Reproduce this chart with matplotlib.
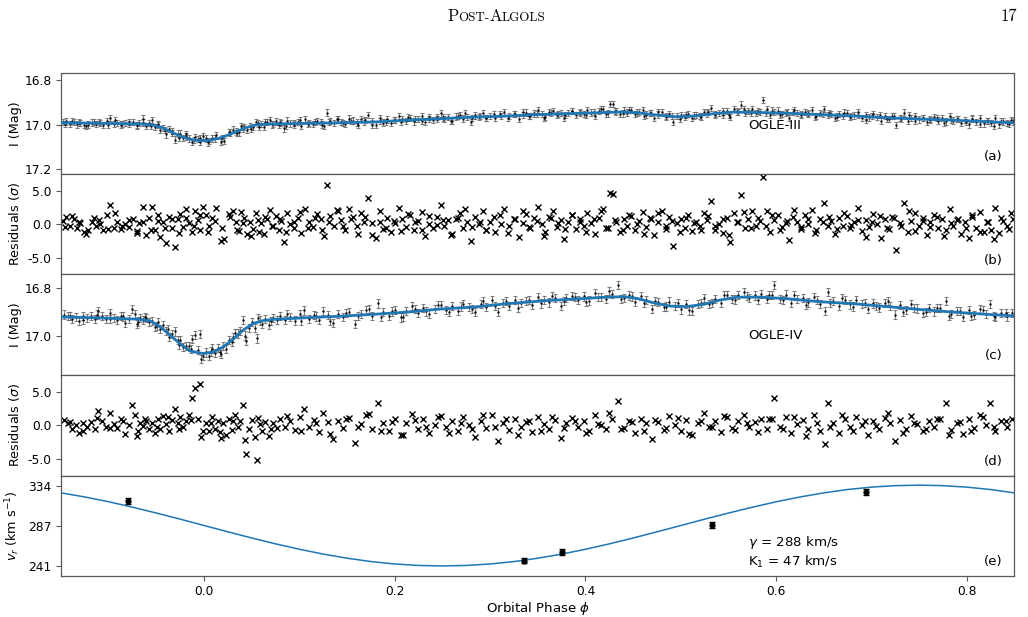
import matplotlib
matplotlib.use("Agg")
import matplotlib.pyplot as plt
from matplotlib.text import Annotation

plt.rcParams['font.family'] = ['DejaVu Sans']
plt.rcParams['axes.unicode_minus'] = False
plt.rcParams['mathtext.fontset'] = 'dejavusans'

# ---------------- OGLE-III (panels a, b) ----------------
ogle3_phase = [
    -0.148, -0.145, -0.141, -0.137, -0.133, -0.130, -0.126, -0.122, -0.118, -0.114,
    -0.110, -0.106, -0.102, -0.099, -0.095, -0.091, -0.087, -0.083, -0.079, -0.075,
    -0.071, -0.068, -0.064, -0.061, -0.058, -0.055, -0.052, -0.049, -0.046, -0.043,
    -0.040, -0.037, -0.034, -0.031, -0.028, -0.025, -0.022, -0.019, -0.016, -0.013,
    -0.010, -0.007, -0.004, -0.001, 0.002, 0.005, 0.008, 0.012, 0.018, 0.021,
    0.027, 0.030, 0.033, 0.036, 0.039, 0.042, 0.045, 0.048, 0.051, 0.054,
    0.057, 0.060, 0.063, 0.066, 0.069, 0.072, 0.075, 0.078, 0.081, 0.084,
    0.087, 0.090, 0.094, 0.098, 0.102, 0.106, 0.110, 0.114, 0.118, 0.122,
    0.126, 0.129, 0.132, 0.136, 0.140, 0.144, 0.148, 0.152, 0.156, 0.160,
    0.164, 0.168, 0.172, 0.176, 0.180, 0.184, 0.188, 0.192, 0.196, 0.200,
    0.204, 0.208, 0.212, 0.216, 0.220, 0.224, 0.228, 0.232, 0.236, 0.240,
    0.244, 0.248, 0.252, 0.256, 0.260, 0.264, 0.268, 0.272, 0.276, 0.280,
    0.284, 0.288, 0.292, 0.296, 0.300, 0.305, 0.310, 0.315, 0.320, 0.325,
    0.330, 0.334, 0.338, 0.342, 0.346, 0.350, 0.354, 0.358, 0.362, 0.366,
    0.370, 0.374, 0.378, 0.382, 0.386, 0.390, 0.394, 0.398, 0.402, 0.406,
    0.410, 0.414, 0.418, 0.422, 0.426, 0.429, 0.432, 0.436, 0.440, 0.444,
    0.448, 0.452, 0.456, 0.460, 0.464, 0.468, 0.472, 0.476, 0.480, 0.484,
    0.488, 0.492, 0.496, 0.500, 0.504, 0.508, 0.512, 0.516, 0.520, 0.524,
    0.528, 0.532, 0.536, 0.540, 0.544, 0.548, 0.552, 0.556, 0.560, 0.563,
    0.567, 0.571, 0.575, 0.579, 0.583, 0.586, 0.590, 0.594, 0.598, 0.602,
    0.606, 0.610, 0.614, 0.618, 0.622, 0.626, 0.630, 0.634, 0.638, 0.642,
    0.646, 0.650, 0.654, 0.658, 0.662, 0.666, 0.670, 0.674, 0.678, 0.682,
    0.686, 0.690, 0.694, 0.698, 0.702, 0.706, 0.710, 0.714, 0.718, 0.722,
    0.726, 0.730, 0.734, 0.738, 0.742, 0.746, 0.750, 0.754, 0.758, 0.762,
    0.766, 0.770, 0.774, 0.778, 0.782, 0.786, 0.790, 0.794, 0.798, 0.802,
    0.806, 0.810, 0.814, 0.818, 0.822, 0.826, 0.830, 0.834, 0.838, 0.842,
    0.846, 0.849,
    -0.146, -0.139, -0.131, -0.124, -0.116, -0.109, -0.101, -0.094, -0.086, -0.079,
    -0.071, -0.064, -0.056, -0.049, -0.041, -0.034, -0.026, -0.019, -0.011, -0.004,
    0.004, 0.011, 0.019, 0.026, 0.034, 0.041, 0.049, 0.056, 0.064, 0.071,
    0.079, 0.086, 0.094, 0.101, 0.109, 0.116, 0.124, 0.131, 0.139, 0.146,
    0.154, 0.161, 0.169, 0.176, 0.184, 0.191, 0.199, 0.206, 0.214, 0.221,
    0.229, 0.236, 0.244, 0.251, 0.259, 0.266, 0.274, 0.281, 0.289, 0.296,
    0.304, 0.311, 0.319, 0.326, 0.334, 0.341, 0.349, 0.356, 0.364, 0.371,
    0.379, 0.386, 0.394, 0.401, 0.409, 0.416, 0.424, 0.431, 0.439, 0.446,
    0.454, 0.461, 0.469, 0.476, 0.484, 0.491, 0.499, 0.506, 0.514, 0.521,
    0.529, 0.536, 0.544, 0.551, 0.559, 0.566, 0.574, 0.581, 0.589, 0.596,
    0.604, 0.611, 0.619, 0.626, 0.634, 0.641, 0.649, 0.656, 0.664, 0.671,
    0.679, 0.686, 0.694, 0.701, 0.709, 0.716, 0.724, 0.731, 0.739, 0.746,
    0.754, 0.761, 0.769, 0.776, 0.784, 0.791, 0.799, 0.806, 0.814, 0.821,
    0.829, 0.836, 0.844]
ogle3_mag = [
    16.989, 16.985, 16.995, 16.987, 16.998, 16.991, 17.002, 16.999, 16.990, 16.995,
    16.988, 17.000, 16.982, 16.970, 16.997, 16.991, 16.999, 16.992, 16.996, 16.987,
    17.003, 16.991, 16.972, 17.006, 16.991, 16.979, 17.010, 17.002, 17.024, 17.013,
    17.043, 17.018, 17.038, 17.066, 17.039, 17.039, 17.058, 17.041, 17.061, 17.076,
    17.053, 17.065, 17.077, 17.051, 17.061, 17.072, 17.061, 17.045, 17.077, 17.071,
    17.034, 17.021, 17.030, 17.034, 17.007, 17.009, 17.022, 17.004, 17.010, 16.988,
    17.008, 16.995, 17.008, 16.989, 16.978, 16.997, 16.985, 17.002, 16.991, 17.016,
    16.981, 16.994, 16.999, 16.987, 17.004, 16.976, 16.991, 16.997, 16.982, 16.988,
    17.006, 16.945, 16.982, 16.993, 16.976, 16.986, 16.996, 16.972, 16.981, 16.990,
    16.975, 16.985, 16.955, 16.999, 17.002, 16.982, 16.990, 16.976, 16.993, 16.980,
    16.962, 16.974, 16.982, 16.968, 16.985, 16.973, 16.962, 16.989, 16.974, 16.979,
    16.964, 16.949, 16.974, 16.966, 16.981, 16.963, 16.956, 16.972, 16.965, 16.986,
    16.958, 16.965, 16.949, 16.970, 16.960, 16.971, 16.951, 16.942, 16.962, 16.953,
    16.973, 16.955, 16.945, 16.961, 16.949, 16.935, 16.953, 16.964, 16.944, 16.938,
    16.955, 16.946, 16.969, 16.948, 16.939, 16.955, 16.943, 16.950, 16.934, 16.945,
    16.959, 16.939, 16.928, 16.950, 16.907, 16.908, 16.940, 16.952, 16.936, 16.945,
    16.935, 16.953, 16.943, 16.935, 16.954, 16.946, 16.968, 16.954, 16.942, 16.966,
    16.953, 16.989, 16.962, 16.957, 16.966, 16.951, 16.969, 16.957, 16.960, 16.943,
    16.949, 16.925, 16.956, 16.947, 16.956, 16.938, 16.965, 16.929, 16.941, 16.909,
    16.948, 16.938, 16.929, 16.946, 16.941, 16.888, 16.930, 16.955, 16.942, 16.936,
    16.951, 16.946, 16.968, 16.941, 16.947, 16.956, 16.941, 16.952, 16.935, 16.960,
    16.947, 16.928, 16.957, 16.951, 16.968, 16.950, 16.960, 16.948, 16.964, 16.958,
    16.942, 16.970, 16.958, 16.967, 16.952, 16.964, 16.983, 16.961, 16.974, 16.960,
    17.000, 16.968, 16.945, 16.982, 16.968, 16.959, 16.976, 16.968, 16.988, 16.973,
    16.966, 16.981, 16.971, 16.985, 16.960, 16.981, 16.975, 16.992, 16.979, 16.998,
    16.975, 16.989, 16.971, 16.994, 16.983, 16.993, 16.969, 16.998, 16.985, 16.992,
    16.977, 16.985,
    16.995, 16.982, 16.990, 17.004, 16.986, 16.992, 16.999, 16.980, 16.995, 16.988,
    17.001, 16.990, 17.005, 16.996, 17.023, 17.027, 17.059, 17.052, 17.069, 17.060,
    17.079, 17.061, 17.060, 17.032, 17.037, 17.016, 17.020, 16.994, 16.987, 16.998,
    16.989, 17.005, 16.992, 16.980, 16.997, 16.986, 16.999, 16.989, 16.974, 16.992,
    16.983, 16.999, 16.979, 16.984, 16.969, 16.988, 16.978, 16.989, 16.967, 16.975,
    16.982, 16.965, 16.974, 16.967, 16.983, 16.962, 16.949, 16.969, 16.962, 16.971,
    16.953, 16.961, 16.970, 16.953, 16.942, 16.959, 16.951, 16.968, 16.946, 16.950,
    16.957, 16.939, 16.947, 16.957, 16.941, 16.930, 16.949, 16.939, 16.949, 16.934,
    16.945, 16.961, 16.947, 16.943, 16.962, 16.959, 16.973, 16.955, 16.958, 16.963,
    16.943, 16.952, 16.940, 16.957, 16.940, 16.929, 16.948, 16.938, 16.948, 16.936,
    16.954, 16.944, 16.932, 16.953, 16.946, 16.963, 16.952, 16.947, 16.963, 16.945,
    16.960, 16.956, 16.978, 16.961, 16.956, 16.973, 16.962, 16.972, 16.957, 16.981,
    16.971, 16.979, 16.968, 16.992, 16.977, 16.974, 16.986, 16.972, 16.995, 16.984,
    17.006, 16.982, 16.996]
ogle3_err = 0.014
ogle3_resid = [
    0.5, 1.0, -0.3, 0.8, -0.6, 0.2, -1.1, -0.8, 0.4, -0.2,
    0.6, -0.9, 1.4, 2.9, -0.5, 0.3, -0.7, 0.1, -0.4, 0.7,
    -1.3, 0.2, 2.6, -1.6, 0.9, 2.6, -0.9, 0.5, -1.9, 0.3,
    -2.8, 1.1, -0.6, -3.4, 0.8, 1.5, -0.4, 2.3, 0.2, -1.2,
    1.9, 0.6, -0.8, 2.5, 1.3, -0.3, 0.9, 2.4, -2.5, -2.2,
    1.0, 2.0, 0.3, -1.0, 1.8, 0.9, -1.4, 0.4, -0.7, 1.6,
    -1.1, 0.2, -1.5, 0.7, 2.1, -0.2, 1.2, -0.9, 0.5, -2.6,
    1.7, 0.1, -0.6, 0.9, -1.3, 2.3, 0.4, -0.4, 1.5, 0.8,
    -1.7, 5.9, 1.2, -0.2, 1.9, 0.6, -0.8, 2.2, 1.0, -0.3,
    1.6, 0.3, 3.9, -1.6, -2.1, 0.4, -0.7, 0.9, -1.2, 0.2,
    2.4, 0.7, -0.4, 1.3, -0.9, 0.5, 1.8, -1.8, 0.1, -0.6,
    1.1, 2.9, -0.2, 0.6, -1.4, 0.8, 1.6, -0.5, 0.3, -2.5,
    1.0, 0.0, 1.9, -0.8, 0.4, -1.1, 1.3, 2.2, -0.3, 0.7,
    -1.9, 0.2, 1.5, -0.6, 0.9, 2.5, 0.1, -1.2, 1.1, 1.9,
    -0.4, 0.6, -2.2, 0.3, 1.4, -0.7, 0.8, -0.3, 1.7, 0.2,
    -1.5, 0.9, 2.3, -0.6, 4.6, 4.5, 0.4, -1.1, 0.7, -0.3,
    1.2, -0.9, 0.5, 1.8, -0.4, 0.9, -1.6, 0.3, 2.0, -0.7,
    1.1, -3.3, 0.2, 0.8, -0.5, 1.4, -1.0, 0.4, -0.2, 1.6,
    0.6, 3.4, -0.8, 0.1, -1.3, 0.9, -2.6, 1.7, 0.3, 4.3,
    -0.6, 0.8, 1.9, -0.2, 0.5, 7.1, 2.0, -1.1, 0.6, 1.4,
    -0.4, 0.2, -2.4, 1.0, 0.4, -0.7, 1.3, 0.0, 2.1, -0.9,
    0.7, 3.2, -0.3, 0.5, -1.5, 0.9, -0.2, 1.2, -0.6, 0.3,
    2.4, -1.0, 0.6, -0.4, 1.5, 0.1, -2.1, 0.8, -0.7, 1.1,
    -3.9, 0.2, 3.2, -1.2, 0.5, 1.7, -0.3, 0.9, -1.6, 0.4,
    1.3, -0.5, 0.7, -0.9, 2.2, -0.2, 0.6, -1.4, 0.3, -2.0,
    1.0, -0.6, 1.8, -1.1, 0.4, -0.8, 2.4, -1.3, 0.5, -0.2,
    1.6, 0.8,
    -0.4, 1.2, 0.3, -1.5, 0.9, 0.1, -0.7, 1.6, -0.2, 0.6,
    -1.0, 0.4, -0.8, 1.3, -0.5, 0.7, -1.3, 0.9, -0.2, 1.4,
    -1.1, 0.5, -0.6, 1.5, -0.9, 0.2, -1.8, 0.6, 1.1, -0.3,
    0.8, -1.2, 0.3, 1.8, -0.5, 0.9, -0.9, 0.4, 2.1, -0.2,
    0.7, -1.4, 1.0, 0.2, 2.0, -0.6, 0.5, -1.0, 1.5, 0.3,
    -0.8, 1.2, -0.1, 0.6, -1.6, 0.9, 2.2, -0.4, 0.4, -0.9,
    1.1, 0.0, -1.3, 0.8, 1.9, -0.4, 0.5, -1.8, 0.9, 0.2,
    -0.7, 1.4, 0.3, -1.1, 0.7, 2.0, -0.5, 0.6, -0.9, 1.3,
    0.1, -1.4, 0.8, 1.6, -0.3, 0.5, -1.2, 0.9, 0.2, -0.8,
    1.2, -0.3, 0.7, -1.6, 0.4, 1.8, -0.5, 0.9, -0.2, 1.3,
    -0.9, 0.5, 2.1, -0.4, 0.8, -1.3, 0.3, 1.0, -0.7, 1.6,
    -0.1, 0.6, -1.9, 0.4, 1.2, -0.6, 0.9, -0.2, 1.9, -1.0,
    0.5, -0.4, 1.1, -1.7, 0.2, 0.8, -0.6, 1.4, -1.2, 0.3,
    -2.2, 0.9, -0.7]

model3_phase = [-0.15, -0.11, -0.07, -0.055, -0.045, -0.035, -0.025, -0.015, -0.005, 0.005,
                0.015, 0.025, 0.035, 0.045, 0.055, 0.07, 0.10, 0.14, 0.18, 0.21,
                0.25, 0.28, 0.32, 0.35, 0.39, 0.42, 0.44, 0.457, 0.47, 0.495,
                0.515, 0.535, 0.555, 0.585, 0.61, 0.645, 0.68, 0.715, 0.75, 0.785,
                0.82, 0.85]
model3_mag = [16.991, 16.993, 16.996, 17.000, 17.011, 17.031, 17.051, 17.065, 17.071, 17.070,
              17.061, 17.046, 17.028, 17.011, 17.000, 16.996, 16.994, 16.991, 16.987, 16.980,
              16.972, 16.966, 16.960, 16.954, 16.949, 16.945, 16.942, 16.947, 16.954, 16.964,
              16.960, 16.950, 16.943, 16.945, 16.948, 16.954, 16.960, 16.968, 16.974, 16.979,
              16.986, 16.991]

# ---------------- OGLE-IV (panels c, d) ----------------
ogle4_phase = [
    -0.147, -0.143, -0.139, -0.135, -0.131, -0.127, -0.123, -0.119, -0.115, -0.111,
    -0.107, -0.103, -0.099, -0.095, -0.091, -0.087, -0.083, -0.079, -0.076, -0.073,
    -0.070, -0.067, -0.064, -0.061, -0.058, -0.055, -0.052, -0.049, -0.046, -0.043,
    -0.040, -0.037, -0.034, -0.031, -0.028, -0.025, -0.022, -0.019, -0.016, -0.013,
    -0.010, -0.007, -0.004, -0.001, 0.002, 0.005, 0.008, 0.011, 0.014, 0.017,
    0.020, 0.023, 0.026, 0.029, 0.032, 0.035, 0.038, 0.041, 0.044, 0.047,
    0.050, 0.053, 0.055, 0.058, 0.061, 0.064, 0.068, 0.072, 0.076, 0.080,
    0.085, 0.090, 0.095, 0.100, 0.105, 0.110, 0.115, 0.120, 0.125, 0.130,
    0.135, 0.140, 0.146, 0.152, 0.158, 0.164, 0.170, 0.176, 0.182, 0.188,
    0.194, 0.200, 0.206, 0.212, 0.218, 0.224, 0.230, 0.236, 0.242, 0.248,
    0.254, 0.260, 0.266, 0.272, 0.278, 0.284, 0.290, 0.296, 0.302, 0.308,
    0.314, 0.320, 0.326, 0.332, 0.338, 0.344, 0.350, 0.356, 0.362, 0.368,
    0.374, 0.380, 0.386, 0.392, 0.398, 0.404, 0.410, 0.416, 0.422, 0.428,
    0.434, 0.440, 0.446, 0.452, 0.458, 0.464, 0.470, 0.476, 0.482, 0.488,
    0.494, 0.500, 0.506, 0.512, 0.518, 0.524, 0.530, 0.536, 0.542, 0.548,
    0.554, 0.560, 0.566, 0.572, 0.578, 0.584, 0.590, 0.596, 0.598, 0.604,
    0.610, 0.616, 0.622, 0.628, 0.634, 0.640, 0.646, 0.651, 0.654, 0.660,
    0.666, 0.672, 0.678, 0.684, 0.690, 0.696, 0.702, 0.708, 0.714, 0.720,
    0.725, 0.730, 0.736, 0.742, 0.748, 0.754, 0.760, 0.766, 0.772, 0.778,
    0.784, 0.790, 0.796, 0.802, 0.808, 0.814, 0.820, 0.824, 0.830, 0.836,
    0.842, 0.848,
    -0.141, -0.127, -0.113, -0.099, -0.085, -0.071, -0.062, -0.050, -0.038, -0.026,
    -0.014, -0.003, 0.007, 0.018, 0.030, 0.043, 0.056, 0.070, 0.087, 0.102,
    0.117, 0.132, 0.149, 0.161, 0.173, 0.185, 0.197, 0.209, 0.221, 0.233,
    0.245, 0.257, 0.269, 0.281, 0.293, 0.305, 0.317, 0.329, 0.341, 0.353,
    0.365, 0.377, 0.389, 0.401, 0.413, 0.425, 0.437, 0.449, 0.461, 0.473,
    0.485, 0.497, 0.509, 0.521, 0.533, 0.545, 0.557, 0.569, 0.581, 0.593,
    0.607, 0.619, 0.631, 0.643, 0.657, 0.669, 0.681, 0.693, 0.705, 0.717,
    0.733, 0.745, 0.757, 0.769, 0.781, 0.793, 0.805, 0.817, 0.829, 0.841]
ogle4_mag = [
    16.911, 16.917, 16.930, 16.921, 16.937, 16.918, 16.927, 16.918, 16.931, 16.898,
    16.917, 16.929, 16.903, 16.924, 16.932, 16.916, 16.945, 16.929, 16.889, 16.908,
    16.940, 16.926, 16.933, 16.924, 16.942, 16.937, 16.964, 16.943, 16.970, 16.954,
    16.979, 17.005, 16.993, 16.981, 17.018, 17.017, 17.046, 17.043, 17.040, 17.012,
    16.995, 17.058, 16.993, 17.083, 17.068, 17.082, 17.052, 17.071, 17.049, 17.065,
    17.040, 17.054, 17.015, 17.026, 16.986, 16.990, 16.978, 16.935, 17.022, 16.966,
    16.941, 16.967, 17.010, 16.936, 16.949, 16.929, 16.954, 16.927, 16.935, 16.918,
    16.932, 16.920, 16.936, 16.909, 16.894, 16.928, 16.913, 16.935, 16.896, 16.914,
    16.945, 16.909, 16.922, 16.902, 16.950, 16.910, 16.891, 16.918, 16.865, 16.902,
    16.916, 16.891, 16.923, 16.897, 16.877, 16.904, 16.883, 16.907, 16.889, 16.870,
    16.891, 16.877, 16.896, 16.867, 16.881, 16.902, 16.868, 16.880, 16.852, 16.901,
    16.863, 16.874, 16.851, 16.864, 16.854, 16.871, 16.839, 16.851, 16.861, 16.841,
    16.875, 16.844, 16.833, 16.850, 16.836, 16.853, 16.821, 16.839, 16.846, 16.826,
    16.790, 16.842, 16.832, 16.859, 16.835, 16.851, 16.888, 16.860, 16.880, 16.857,
    16.877, 16.890, 16.868, 16.896, 16.867, 16.844, 16.866, 16.848, 16.863, 16.830,
    16.847, 16.830, 16.818, 16.842, 16.832, 16.826, 16.848, 16.830, 16.789, 16.847,
    16.828, 16.863, 16.846, 16.841, 16.861, 16.837, 16.868, 16.895, 16.817, 16.856,
    16.876, 16.852, 16.869, 16.851, 16.868, 16.889, 16.865, 16.882, 16.863, 16.875,
    16.911, 16.872, 16.892, 16.868, 16.886, 16.903, 16.884, 16.898, 16.884, 16.854,
    16.909, 16.897, 16.921, 16.893, 16.912, 16.887, 16.909, 16.868, 16.922, 16.906,
    16.919, 16.904,
    16.916, 16.935, 16.911, 16.931, 16.919, 16.951, 16.920, 16.957, 16.970, 17.036,
    17.053, 17.095, 17.064, 17.075, 17.006, 16.998, 16.927, 16.939, 16.910, 16.936,
    16.919, 16.937, 16.905, 16.917, 16.889, 16.920, 16.898, 16.920, 16.888, 16.898,
    16.873, 16.900, 16.878, 16.888, 16.855, 16.874, 16.854, 16.882, 16.851, 16.865,
    16.835, 16.854, 16.838, 16.860, 16.838, 16.814, 16.845, 16.836, 16.864, 16.854,
    16.878, 16.863, 16.894, 16.863, 16.862, 16.830, 16.849, 16.835, 16.852, 16.829,
    16.851, 16.832, 16.873, 16.852, 16.864, 16.843, 16.878, 16.862, 16.875, 16.855,
    16.899, 16.883, 16.900, 16.883, 16.917, 16.897, 16.916, 16.892, 16.916, 16.906]
ogle4_err = 0.017
ogle4_resid = [
    0.8, 0.3, -0.6, 0.1, -1.1, 0.4, -0.3, 0.5, -0.5, 2.1,
    0.6, -0.2, 1.8, 0.2, -0.4, 0.9, -1.3, 0.0, 3.1, 1.6,
    -0.8, 0.4, -0.1, 0.7, -0.5, 0.3, -1.2, 0.9, -0.6, 1.4,
    0.2, -0.9, 0.8, 2.5, 0.4, 1.2, -0.3, 0.6, 1.5, 4.1,
    5.6, 0.9, 6.1, -0.8, 0.3, -0.9, 1.2, -0.5, 0.7, -1.0,
    0.4, -1.4, 0.9, -0.7, 1.6, -0.2, 0.6, 3.1, -4.3, -0.6,
    0.8, -1.7, -5.2, 0.2, -0.9, 0.5, -1.6, 0.3, -0.4, 0.9,
    -0.2, 0.6, -0.7, 1.3, 2.4, -0.3, 0.8, -1.0, 1.9, 0.5,
    -2.0, 0.7, -0.4, 1.1, -2.7, 0.2, 1.6, -0.6, 3.4, 0.4,
    -0.8, 1.0, -1.5, 0.3, 1.7, -0.5, 0.9, -1.1, 0.1, 1.4,
    -0.3, 0.6, -0.9, 1.2, 0.0, -1.7, 0.7, -0.4, 1.5, -2.4,
    0.3, -0.7, 0.9, -0.2, 0.5, -1.0, 1.3, 0.2, -0.6, 0.8,
    -1.9, 0.4, 1.1, -0.3, 0.7, -0.8, 1.6, 0.1, -0.5, 0.9,
    3.6, -0.4, 0.6, -1.2, 1.0, 0.3, -2.1, 0.5, -0.7, 1.4,
    0.0, -0.9, 0.8, -1.5, 0.4, 1.9, -0.3, 0.6, -1.0, 1.2,
    -0.4, 0.7, 1.6, -0.2, 0.5, 1.0, -0.6, 0.9, 4.1, -0.3,
    1.3, -1.2, 0.2, 0.8, -0.5, 1.5, -0.8, -2.8, 3.3, 0.4,
    -1.1, 0.9, -0.3, 1.2, 0.1, -1.4, 0.6, -0.5, 1.1, 0.3,
    -2.3, 0.8, -0.6, 1.4, 0.2, -0.9, 0.7, -0.2, 1.0, 3.4,
    -0.7, 0.4, -1.3, 0.9, -0.4, 1.6, 0.1, 3.3, -0.8, 0.6,
    -0.3, 1.0,
    0.5, -0.9, 1.1, -0.4, 0.7, -1.6, 0.9, -0.3, 1.2, -0.5,
    0.8, -1.8, 0.4, -1.9, 0.6, -2.2, 1.1, -0.5, 1.4, -0.8,
    0.3, -1.3, 0.9, -0.2, 1.7, -0.9, 0.5, -1.4, 0.8, -0.3,
    1.2, -1.1, 0.4, -0.6, 1.6, -0.2, 0.9, -1.5, 0.6, -0.8,
    1.3, -0.4, 0.7, -1.2, 0.2, 1.9, -0.6, 0.5, -0.9, 0.8,
    -0.4, 1.1, -1.3, 0.6, -0.2, 1.4, -0.7, 0.3, -1.0, 0.9,
    -0.5, 1.2, -1.6, 0.4, -0.3, 1.5, -0.9, 0.6, -0.1, 1.8,
    -1.2, 0.3, -0.6, 1.0, -1.4, 0.5, -0.8, 1.3, -0.3, 0.7]

model4_phase = [-0.15, -0.11, -0.07, -0.057, -0.046, -0.036, -0.025, -0.015, -0.001, 0.01,
                0.02, 0.031, 0.041, 0.052, 0.062, 0.073, 0.108, 0.143, 0.178, 0.213,
                0.248, 0.283, 0.318, 0.353, 0.387, 0.422, 0.44, 0.454, 0.471, 0.489,
                0.506, 0.524, 0.541, 0.559, 0.583, 0.611, 0.646, 0.681, 0.716, 0.751,
                0.786, 0.821, 0.85]
model4_mag = [16.921, 16.925, 16.930, 16.937, 16.962, 16.996, 17.033, 17.062, 17.073, 17.066,
              17.045, 17.011, 16.975, 16.947, 16.936, 16.931, 16.924, 16.918, 16.910, 16.901,
              16.888, 16.880, 16.866, 16.855, 16.847, 16.839, 16.837, 16.844, 16.862, 16.876,
              16.878, 16.869, 16.851, 16.839, 16.839, 16.845, 16.858, 16.866, 16.878, 16.890,
              16.901, 16.910, 16.917]

# ---------------- Radial velocities (panel e) ----------------
rv_phase = [-0.080, 0.335, 0.375, 0.533, 0.694]
rv_vel = [317.0, 247.0, 257.0, 289.0, 327.0]
rv_err = [3.5, 3.0, 3.5, 3.5, 3.0]
rvmodel_phase = [-0.15, -0.125, -0.1, -0.075, -0.05, -0.025, 0.0, 0.025, 0.05, 0.075,
                 0.1, 0.125, 0.15, 0.175, 0.2, 0.225, 0.25, 0.275, 0.3, 0.325,
                 0.35, 0.375, 0.4, 0.425, 0.45, 0.475, 0.5, 0.525, 0.55, 0.575,
                 0.6, 0.625, 0.65, 0.675, 0.7, 0.725, 0.75, 0.775, 0.8, 0.825, 0.85]
rvmodel_vel = [326.0, 321.2, 315.6, 309.3, 302.5, 295.4, 288.0, 280.7, 273.5, 266.7,
               260.4, 254.8, 250.0, 246.1, 243.3, 241.6, 241.0, 241.6, 243.3, 246.1,
               250.0, 254.8, 260.4, 266.7, 273.5, 280.7, 288.0, 295.4, 302.5, 309.3,
               315.6, 321.2, 326.0, 329.9, 332.7, 334.4, 335.0, 334.4, 332.7, 329.9, 326.0]

mag_ticks_a = [16.8, 17.0, 17.2]
mag_ticks_c = [16.8, 17.0]
resid_ticks = [5.0, 0.0, -5.0]
rv_ticks = [241, 287, 334]
phase_ticks = [0.0, 0.2, 0.4, 0.6, 0.8]

# ---------------- Figure ----------------
fig = plt.figure(figsize=(10.28, 6.17), dpi=100)
gs = fig.add_gridspec(5, 1, left=0.0596, right=0.9867, top=0.8812, bottom=0.066, hspace=0)
axes = [fig.add_subplot(gs[i, 0]) for i in range(5)]

BLUE = '#1f77b4'
SPINE = '0.35'
TFS = 8.8
LFS = 9.2
AFS = 9.6

for ax in axes:
    ax.set_xlim(-0.15, 0.85)
    for s in ax.spines.values():
        s.set_color(SPINE)
        s.set_linewidth(0.9)
    ax.tick_params(axis='y', labelsize=TFS, length=3.5, width=0.8, color=SPINE)
    ax.tick_params(axis='x', labelsize=TFS, length=3.5, width=0.8, color=SPINE, pad=2.5)
    ax.set_xticks(phase_ticks)
for ax in axes[:4]:
    ax.tick_params(axis='x', bottom=False, labelbottom=False)

EB = dict(fmt='.', ms=1.6, color='k', ecolor='0.42', elinewidth=0.8,
          capsize=1.6, capthick=0.8, alpha=0.85, zorder=2)

# (a)
ax = axes[0]
ax.errorbar(ogle3_phase, ogle3_mag, yerr=ogle3_err, **EB)
ax.plot(model3_phase, model3_mag, color=BLUE, lw=2, zorder=3)
ax.set_ylim(17.22, 16.769)
ax.set_yticks(mag_ticks_a)
ax.set_yticklabels(['%.1f' % t for t in mag_ticks_a])
ax.set_ylabel('I (Mag)', fontsize=LFS)
ax.text(0.7206, 0.485, 'OGLE-III', transform=ax.transAxes, fontsize=AFS, va='center', ha='left')
ax.text(0.9877, 0.169, '(a)', transform=ax.transAxes, fontsize=AFS, va='center', ha='right')

# (b)
ax = axes[1]
ax.plot(ogle3_phase, ogle3_resid, 'x', color='k', ms=3.8, mew=1.0)
ax.set_ylim(-7.5, 7.5)
ax.set_yticks(resid_ticks)
ax.set_yticklabels(['%.1f' % t for t in resid_ticks])
ax.set_ylabel(r'Residuals ($\sigma$)', fontsize=LFS)
ax.text(0.9877, 0.14, '(b)', transform=ax.transAxes, fontsize=AFS, va='center', ha='right')

# (c)
ax = axes[2]
ax.errorbar(ogle4_phase, ogle4_mag, yerr=ogle4_err, **EB)
ax.plot(model4_phase, model4_mag, color=BLUE, lw=2, zorder=3)
ax.set_ylim(17.162, 16.745)
ax.set_yticks(mag_ticks_c)
ax.set_yticklabels(['%.1f' % t for t in mag_ticks_c])
ax.set_ylabel('I (Mag)', fontsize=LFS)
ax.text(0.7206, 0.396, 'OGLE-IV', transform=ax.transAxes, fontsize=AFS, va='center', ha='left')
ax.text(0.9877, 0.198, '(c)', transform=ax.transAxes, fontsize=AFS, va='center', ha='right')

# (d)
ax = axes[3]
ax.plot(ogle4_phase, ogle4_resid, 'x', color='k', ms=3.8, mew=1.0)
ax.set_ylim(-7.5, 7.5)
ax.set_yticks(resid_ticks)
ax.set_yticklabels(['%.1f' % t for t in resid_ticks])
ax.set_ylabel(r'Residuals ($\sigma$)', fontsize=LFS)
ax.text(0.9877, 0.139, '(d)', transform=ax.transAxes, fontsize=AFS, va='center', ha='right')

# (e)
ax = axes[4]
ax.plot(rvmodel_phase, rvmodel_vel, color=BLUE, lw=1.1, zorder=2)
ax.errorbar(rv_phase, rv_vel, yerr=rv_err, fmt='o', ms=3.5, color='k',
            ecolor='k', elinewidth=1.0, capsize=2.2, capthick=1.0, zorder=3)
ax.set_ylim(229, 346)
ax.set_yticks(rv_ticks)
ax.set_yticklabels([str(t) for t in rv_ticks])
ax.set_ylabel(r'$v_r$ (km s$^{-1}$)', fontsize=LFS)
ax.set_xticklabels(['%.1f' % t for t in phase_ticks])
ax.set_xlabel(r'Orbital Phase $\phi$', fontsize=AFS, labelpad=1.5)
ax.text(0.7206, 0.241, '$\\gamma$ = 288 km/s\nK$_1$ = 47 km/s', transform=ax.transAxes,
        fontsize=AFS, va='center', ha='left', linespacing=1.25)
ax.text(0.9877, 0.145, '(e)', transform=ax.transAxes, fontsize=AFS, va='center', ha='right')

for ax in axes:
    ax.yaxis.set_label_coords(-0.041, 0.5)

# ---------------- Page header (small caps) ----------------
big, small = 12.0, 9.4
parts = [('P', big), ('OST-', small), ('A', big), ('LGOLS', small)]
prev = fig.text(0.435, 0.966, parts[0][0], fontsize=parts[0][1], family='cmr10',
                va='baseline', ha='left')
for s, sz in parts[1:]:
    a = Annotation(s, xy=(1, 0), xycoords=prev, fontsize=sz, family='cmr10',
                   va='bottom', ha='left')
    fig.add_artist(a)
    prev = a
fig.text(0.989, 0.966, '17', fontsize=big, family='cmr10', va='baseline', ha='right')

fig.savefig('out.png', dpi=100)
